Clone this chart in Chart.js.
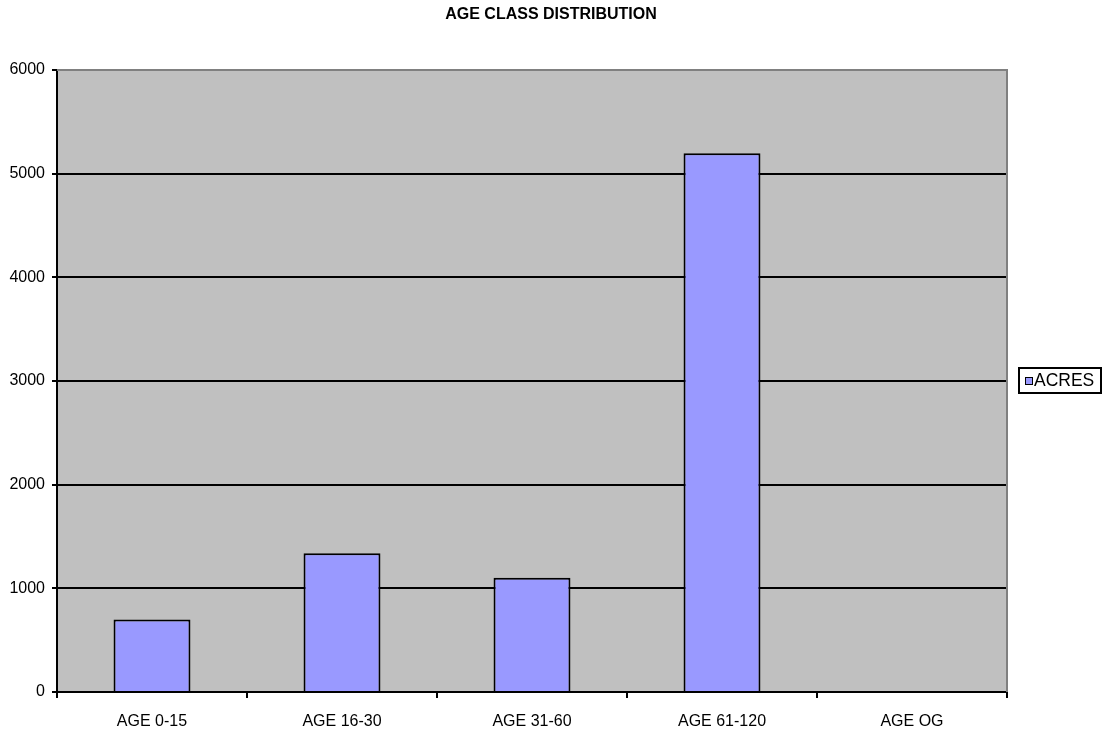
<!DOCTYPE html>
<html>
<head>
<meta charset="utf-8">
<title>AGE CLASS DISTRIBUTION</title>
<script src="https://cdn.jsdelivr.net/npm/chart.js@4.4.1/dist/chart.umd.min.js"></script>
<style>
  html, body { margin: 0; padding: 0; background: #ffffff; }
  #wrap { width: 1102px; height: 732px; }
</style>
</head>
<body>
<div id="wrap"><canvas id="chart" width="1102" height="732"></canvas></div>
<script>
// Age classes and acreage per class
const categories = ['AGE 0-15', 'AGE 16-30', 'AGE 31-60', 'AGE 61-120', 'AGE OG'];
const acres = [700, 1338, 1103, 5196, 0];
const seriesName = 'ACRES';
const chartTitle = 'AGE CLASS DISTRIBUTION';
const yTicks = [0, 1000, 2000, 3000, 4000, 5000, 6000];

const FONT = "'Liberation Sans', Arial, sans-serif";
const BAR_FILL = '#9999FF';
const PLOT_BG = '#C0C0C0';

// Grey plot background behind everything in the chart area
const plotBackground = {
  id: 'plotBackground',
  beforeDraw(chart) {
    const { ctx, chartArea: a } = chart;
    ctx.save();
    ctx.fillStyle = PLOT_BG;
    ctx.fillRect(a.left, a.top, a.right - a.left, a.bottom - a.top);
    ctx.restore();
  }
};

// Grey frame on the top and right edges of the plot, plus title and boxed legend
const frameTitleLegend = {
  id: 'frameTitleLegend',
  afterDraw(chart) {
    const { ctx, chartArea: a } = chart;
    ctx.save();
    ctx.strokeStyle = '#808080';
    ctx.lineWidth = 2;
    ctx.beginPath();
    ctx.moveTo(a.left, a.top);
    ctx.lineTo(a.right, a.top);
    ctx.lineTo(a.right, a.bottom);
    ctx.stroke();

    // title
    ctx.fillStyle = '#000';
    ctx.font = 'bold 16px ' + FONT;
    ctx.textAlign = 'center';
    ctx.textBaseline = 'middle';
    ctx.fillText(chartTitle, 551, 15);

    // legend box
    const ds = chart.data.datasets[0];
    ctx.lineWidth = 2;
    ctx.strokeStyle = '#000';
    ctx.strokeRect(1019, 368, 82, 25);
    ctx.fillStyle = ds.backgroundColor;
    ctx.fillRect(1025, 377, 8, 8);
    ctx.lineWidth = 1;
    ctx.strokeRect(1025.5, 377.5, 7, 7);
    ctx.fillStyle = '#000';
    ctx.font = '17.5px ' + FONT;
    ctx.textAlign = 'left';
    ctx.fillText(ds.label, 1034, 381.5);
    ctx.restore();
  }
};

new Chart(document.getElementById('chart'), {
  type: 'bar',
  data: {
    labels: categories,
    datasets: [{
      label: seriesName,
      data: acres,
      backgroundColor: BAR_FILL,
      borderColor: '#000000',
      borderWidth: 2,
      barPercentage: 0.405,
      categoryPercentage: 1.0
    }]
  },
  options: {
    responsive: false,
    animation: false,
    devicePixelRatio: 1,
    layout: { padding: { top: 70, right: 95, bottom: 0, left: 0 } },
    plugins: {
      legend: { display: false },
      title: { display: false },
      tooltip: { enabled: false }
    },
    scales: {
      x: {
        offset: true,
        grid: {
          offset: true,
          drawOnChartArea: false,
          color: '#000',
          tickLength: 6,
          lineWidth: 2
        },
        border: { color: '#000', width: 2 },
        ticks: {
          color: '#000',
          font: { family: FONT, size: 16 },
          padding: 14,
          maxRotation: 0
        },
        afterFit(scale) { scale.height = 40; }
      },
      y: {
        min: yTicks[0],
        max: yTicks[yTicks.length - 1],
        afterBuildTicks(scale) { scale.ticks = yTicks.map(v => ({ value: v })); },
        grid: {
          color: ctx => (ctx.tick && ctx.tick.value === 6000) ? 'rgba(0,0,0,0)' : '#000',
          tickColor: '#000',
          tickLength: 5,
          lineWidth: 2
        },
        border: { color: '#000', width: 2 },
        ticks: {
          color: '#000',
          font: { family: FONT, size: 16 },
          padding: 7,
          callback: v => String(v)
        },
        afterFit(scale) { scale.width = 57; }
      }
    }
  },
  plugins: [plotBackground, frameTitleLegend]
});
</script>
</body>
</html>
